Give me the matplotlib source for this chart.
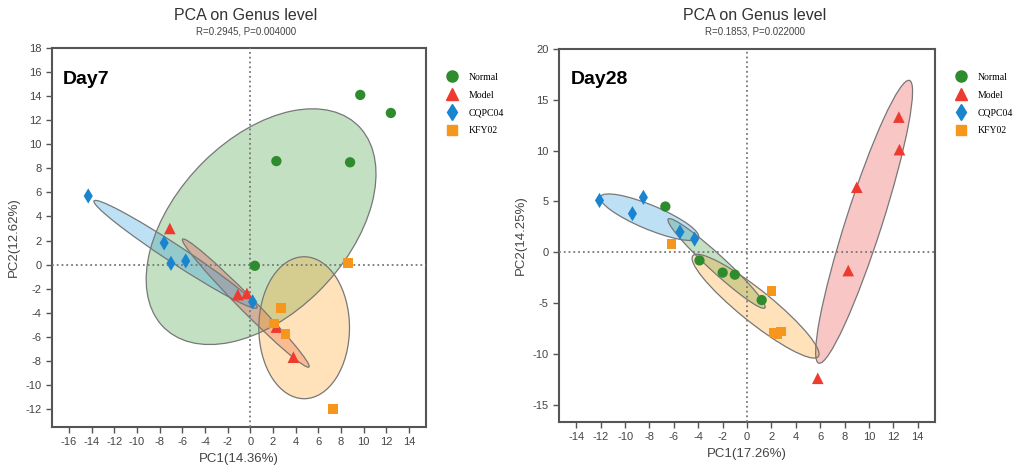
import numpy as np
import matplotlib
matplotlib.use('Agg')
import matplotlib.pyplot as plt
from matplotlib.patches import Ellipse
from matplotlib.lines import Line2D

############################################################
# Data

groups = ['Normal', 'Model', 'CQPC04', 'KFY02']
colors = ['#2e8b2e', '#ee3b30', '#1a84cf', '#f7961c']
fills = ['#3a9a3a', '#ee4444', '#2a9ae0', '#ff9f1a']
markers = ['o', '^', 'd', 's']

# Day7
d7_normal_x = [9.7, 12.4, 2.3, 8.8, 0.4]
d7_normal_y = [14.1, 12.6, 8.6, 8.5, -0.1]
d7_model_x = [-7.1, -1.1, -0.3, 2.3, 3.8]
d7_model_y = [3.0, -2.5, -2.4, -5.2, -7.7]
d7_cqpc_x = [-14.3, -7.6, -7.0, -5.7, 0.2]
d7_cqpc_y = [5.7, 1.8, 0.1, 0.3, -3.1]
d7_kfy_x = [8.65, 2.7, 2.1, 3.1, 7.3]
d7_kfy_y = [0.1, -3.6, -4.9, -5.8, -12.0]

# Day28
d28_normal_x = [-6.7, -3.9, -2.0, -1.0, 1.2]
d28_normal_y = [4.5, -0.8, -2.0, -2.2, -4.7]
d28_model_x = [12.45, 12.5, 9.0, 8.3, 5.8]
d28_model_y = [13.3, 10.1, 6.4, -1.8, -12.4]
d28_cqpc_x = [-12.1, -9.4, -8.5, -5.5, -4.3]
d28_cqpc_y = [5.1, 3.8, 5.4, 2.0, 1.3]
d28_kfy_x = [-6.2, 2.0, 2.2, 2.5, 2.8]
d28_kfy_y = [0.8, -3.8, -7.9, -8.0, -7.8]

# confidence ellipses: (cx, cy, width, height, angle) per group
d7_ellipses = [(0.95, 3.15, 24.0, 14.8, 42.8),
               (-0.4, -3.2, 15.4, 1.3, -43.6),
               (-6.6, 0.85, 16.9, 1.5, -31.7),
               (4.75, -5.25, 8.0, 11.8, 0)]
d28_ellipses = [(-2.5, -1.1, 11.8, 1.5, -48.0),
                (9.6, 3.0, 28.8, 3.0, 75.1),
                (-8.0, 3.45, 9.0, 2.3, -27.1),
                (0.7, -5.3, 14.3, 2.9, -44.4)]

############################################################
# Plotting

plt.rcParams['font.family'] = ['Liberation Sans', 'DejaVu Sans']
plt.rcParams['axes.unicode_minus'] = False

fig = plt.figure(figsize=(10.15, 4.66), dpi=100)

panels = [
    dict(rect=[0.0512, 0.0837, 0.3685, 0.8133], xlim=(-17.5, 15.5), ylim=(-13.5, 18),
         xticks=np.arange(-16, 15, 2), yticks=np.arange(-12, 19, 2),
         xs=[d7_normal_x, d7_model_x, d7_cqpc_x, d7_kfy_x],
         ys=[d7_normal_y, d7_model_y, d7_cqpc_y, d7_kfy_y],
         ell=d7_ellipses, day='Day7', sub='R=0.2945, P=0.004000',
         xlab='PC1(14.36%)', ylab='PC2(12.62%)', tx=246, leg_x=450),
    dict(rect=[0.551, 0.0944, 0.370, 0.8004], xlim=(-15.4, 15.4), ylim=(-16.7, 20),
         xticks=np.arange(-14, 15, 2), yticks=np.arange(-15, 21, 5),
         xs=[d28_normal_x, d28_model_x, d28_cqpc_x, d28_kfy_x],
         ys=[d28_normal_y, d28_model_y, d28_cqpc_y, d28_kfy_y],
         ell=d28_ellipses, day='Day28', sub='R=0.1853, P=0.022000',
         xlab='PC1(17.26%)', ylab='PC2(14.25%)', tx=755, leg_x=959),
]

for p in panels:
    ax = fig.add_axes(p['rect'])
    ax.set_xlim(p['xlim'])
    ax.set_ylim(p['ylim'])
    ax.set_xticks(p['xticks'])
    ax.set_yticks(p['yticks'])

    for (cx, cy, w, h, a), fc in zip(p['ell'], fills):
        ax.add_patch(Ellipse((cx, cy), w, h, angle=a, facecolor=fc, alpha=0.3,
                             edgecolor='none', zorder=1))
        ax.add_patch(Ellipse((cx, cy), w, h, angle=a, facecolor='none',
                             edgecolor='#777777', lw=0.9, zorder=2))

    ax.axvline(0, color='#777777', ls=':', lw=1.3, zorder=3)
    ax.axhline(0, color='#777777', ls=':', lw=1.3, zorder=3)

    sizes = [55, 70, 60, 50]
    for x, y, c, m, s in zip(p['xs'], p['ys'], colors, markers, sizes):
        ax.scatter(x, y, c=c, marker=m, s=s, edgecolors='none', zorder=4)

    for sp in ax.spines.values():
        sp.set_color('#555555')
        sp.set_linewidth(1.5)
    ax.tick_params(direction='out', length=4, width=1, color='#555555',
                   labelcolor='#444444', labelsize=8)
    ax.set_xlabel(p['xlab'], fontsize=9.5, color='#444444', labelpad=4)
    ax.set_ylabel(p['ylab'], fontsize=9.5, color='#444444', labelpad=4)
    ax.text(0.03, 0.94, p['day'], transform=ax.transAxes, fontsize=14,
            fontweight='bold', va='top', ha='left')

    fig.text(p['tx'] / 1015, 1 - 16 / 466, 'PCA on Genus level', ha='center',
             va='center', fontsize=11.5, color='#333333')
    fig.text(p['tx'] / 1015, 1 - 31 / 466, p['sub'], ha='center', va='center',
             fontsize=7, color='#444444')

    handles = [Line2D([], [], ls='none', marker=m, color=c, markersize=ms)
               for c, m, ms in zip(colors, markers, [8, 8, 8, 7.5])]
    fig.legend(handles, groups, loc='upper left',
               bbox_to_anchor=(p['leg_x'] / 1015 - 0.012, 1 - 64 / 466),
               frameon=False, prop={'family': 'Liberation Serif', 'size': 7},
               handletextpad=1.1, labelspacing=0.9, handlelength=1.2)

fig.savefig('out.png', dpi=100)
